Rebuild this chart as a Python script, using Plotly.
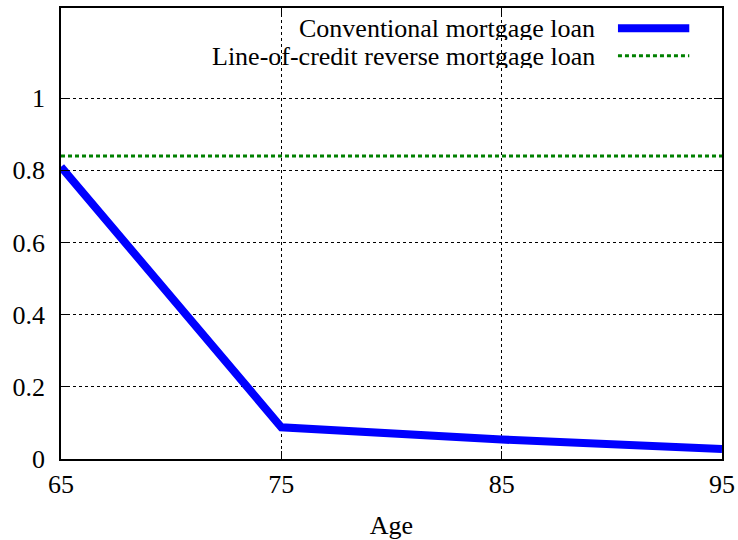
import plotly.graph_objects as go

# Ratio by age of the borrower for two loan types
ages = [65, 75, 85, 95]
conventional = [0.81, 0.088, 0.054, 0.028]
reverse_loc = [0.84, 0.84, 0.84, 0.84]

series_names = ["Conventional mortgage loan", "Line-of-credit reverse mortgage loan"]
x_ticks = [65, 75, 85, 95]
y_ticks = [0, 0.2, 0.4, 0.6, 0.8, 1]
y_tick_text = ["0", "0.2", "0.4", "0.6", "0.8", "1"]

FONT = "Liberation Serif, Times New Roman, Times, serif"
BLUE = "#0000ff"
GREEN = "#008000"

fig = go.Figure()
fig.add_trace(go.Scatter(x=ages, y=conventional, mode="lines", name=series_names[0],
                         line=dict(color=BLUE, width=8), showlegend=False))
fig.add_trace(go.Scatter(x=ages, y=reverse_loc, mode="lines", name=series_names[1],
                         line=dict(color=GREEN, width=3, dash="4px,3px"), showlegend=False))

# gnuplot-style key: right-aligned labels with the line sample to their right
key_rows = [(series_names[0], 0.955, dict(color=BLUE, width=8)),
            (series_names[1], 0.894, dict(color=GREEN, width=3, dash="4px,3px"))]
for label, yk, style in key_rows:
    fig.add_annotation(x=0.811, y=yk, xref="paper", yref="paper", text=label,
                       showarrow=False, xanchor="right", yanchor="middle",
                       height=24, valign="middle",
                       font=dict(family=FONT, size=26, color="black"))
    fig.add_shape(type="line", xref="paper", yref="paper", x0=0.8426, x1=0.9505,
                  y0=yk, y1=yk, line=style)

axis_common = dict(showline=True, linecolor="black", linewidth=1.5, mirror="allticks",
                   ticks="inside", ticklen=8, tickwidth=1.2, tickcolor="black",
                   showgrid=True, gridcolor="black", gridwidth=0.8, griddash="dot",
                   zeroline=False, automargin=False,
                   tickfont=dict(family=FONT, size=26, color="black"))

fig.update_xaxes(range=[65, 95], tickvals=x_ticks, ticklabelstandoff=1,
                 title=dict(text="Age", font=dict(family=FONT, size=26, color="black"),
                            standoff=29), **axis_common)
fig.update_yaxes(range=[0, 1.25], tickvals=y_ticks, ticktext=y_tick_text,
                 ticklabelstandoff=9, **axis_common)

fig.update_layout(width=738, height=540, margin=dict(l=61, r=16, t=8, b=81),
                  paper_bgcolor="white", plot_bgcolor="white",
                  font=dict(family=FONT, size=26, color="black"))

fig.write_html("out.html")
